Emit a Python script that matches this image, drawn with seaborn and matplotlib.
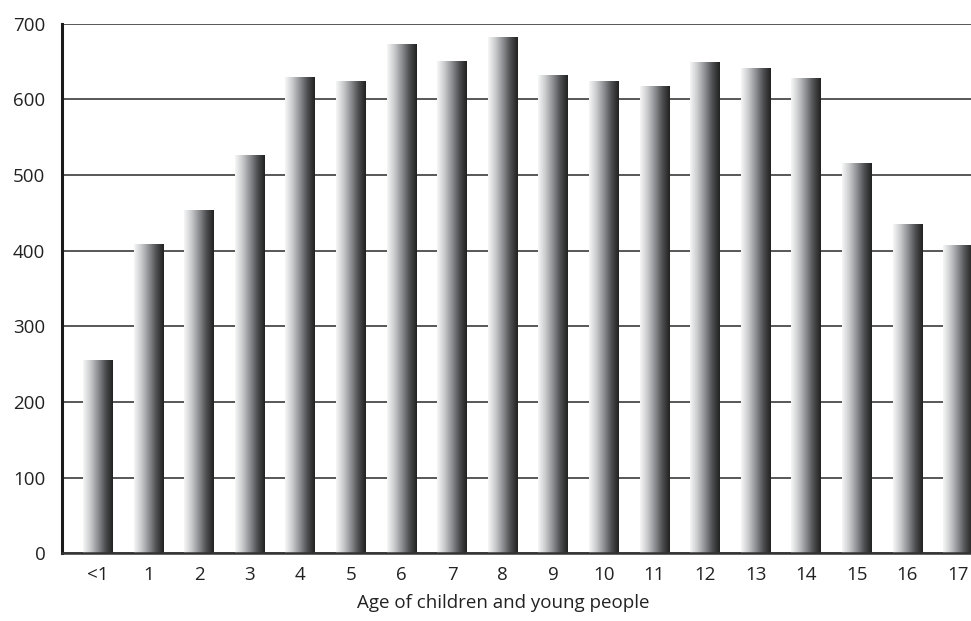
import numpy as np
import pandas as pd
import matplotlib
matplotlib.use("Agg")
import matplotlib.pyplot as plt
import seaborn as sns
from matplotlib.colors import LinearSegmentedColormap

# Number of children and young people by age
ages = ["<1", "1", "2", "3", "4", "5", "6", "7", "8", "9",
        "10", "11", "12", "13", "14", "15", "16", "17"]
counts = [255, 409, 454, 526, 630, 624, 673, 651, 682, 632,
          624, 618, 649, 641, 628, 516, 435, 407]
y_ticks = [0, 100, 200, 300, 400, 500, 600, 700]
x_title = "Age of children and young people"

df = pd.DataFrame({"age": ages, "count": counts})

sns.set_theme(style="white")
plt.rcParams["font.family"] = ["Open Sans", "DejaVu Sans"]

fig = plt.figure(figsize=(9.71, 6.21), dpi=100)
ax = fig.add_axes([62 / 971, 1 - 553.3 / 621, 1 - 62 / 971, (553.3 - 23.6) / 621])

sns.barplot(data=df, x="age", y="count", order=ages, ax=ax,
            width=0.59, color="white", edgecolor="none", linewidth=0, zorder=2)

# Horizontal shading on each bar: light on the left, dark on the right
shade = LinearSegmentedColormap.from_list(
    "bar_shade", ["#f7f7f7", "#c9cacc", "#8e8f92", "#4e4f51", "#202020"])
grad = np.linspace(0, 1, 256).reshape(1, -1)
for patch in ax.patches:
    x0, y0 = patch.get_x(), patch.get_y()
    w, h = patch.get_width(), patch.get_height()
    patch.set_facecolor("none")
    im = ax.imshow(grad, cmap=shade, aspect="auto", interpolation="bicubic",
                   extent=(x0, x0 + w, y0, y0 + h), zorder=2)
    im.set_clip_path(patch)

ax.set_xlim(-0.712, 17.256)
ax.set_ylim(0, 700)
ax.set_yticks(y_ticks)
ax.set_yticklabels([str(v) for v in y_ticks])

ax.yaxis.grid(True, color="#2a2a2a", linewidth=1.1, zorder=0)
ax.xaxis.grid(False)
ax.set_axisbelow(True)

for side in ["top", "right"]:
    ax.spines[side].set_visible(False)
ax.spines["left"].set_color("#1a1a1a")
ax.spines["left"].set_linewidth(2.2)
ax.spines["bottom"].set_color("#333333")
ax.spines["bottom"].set_linewidth(1.8)

ax.tick_params(axis="both", length=0, labelsize=13.5, colors="#222222")
ax.tick_params(axis="y", pad=12)
ax.tick_params(axis="x", pad=9)

ax.set_ylabel("")
ax.set_xlabel(x_title, fontsize=13.5, color="#222222", labelpad=7, x=0.485)

fig.savefig("out.png", dpi=100)
